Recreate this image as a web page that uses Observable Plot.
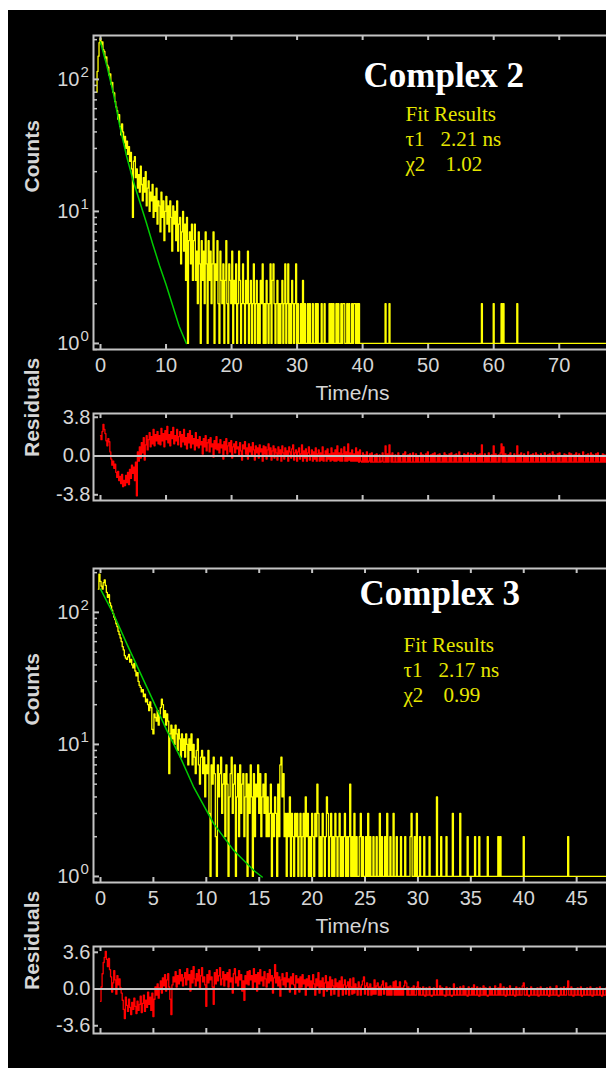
<!DOCTYPE html>
<html><head><meta charset="utf-8">
<script src="https://cdn.jsdelivr.net/npm/d3@7"></script>
<script src="https://cdn.jsdelivr.net/npm/@observablehq/plot@0.6"></script>
<style>
html,body{margin:0;padding:0;background:#fff;overflow:hidden;width:606px;height:1068px;}
#panel{position:absolute;left:8px;top:10px;width:598px;height:1058px;background:#000;overflow:hidden;}
#panel svg{max-width:none !important;}
</style></head><body><div id="panel"></div>
<script>
// ---------------- DATA ----------------
// Complex 2: photon counts per channel (channel width 0.15 ns, first channel at -0.6 ns)
const timeStart2 = -0.6, timeStep2 = 0.15;
const counts2 = [
 80,115,150,190,205,185,192,168,163,145,148,128,124,108,110,92,95,80,79,68,
 62,58,50,54,44,38,46,40,33,37,30,34,27,31,24,28,21,9,24,26,
 18,21,15,19,14,22,16,12,18,14,20,11,15,17,10,14,12,16,9,13,
 10,15,8,12,11,7,14,9,12,6,10,13,8,11,7,12,9,5,11,8,
 10,6,12,5,8,9,4,7,10,5,8,3,9,1,6,7,4,8,3,6,
 8,3,5,2,7,4,1,6,3,5,2,7,4,1,6,3,5,2,4,7,
 1,4,3,6,2,1,5,3,2,4,1,3,6,2,1,4,3,2,5,1,
 3,2,4,1,2,5,3,1,2,4,2,1,3,2,5,1,2,3,1,2,
 4,1,2,3,1,2,1,3,2,4,1,2,1,3,2,1,2,4,1,3,
 4,2,1,2,3,1,2,1,2,3,1,2,4,1,2,4,1,2,1,3,
 2,1,2,4,1,2,1,1,2,1,3,1,2,1,1,2,1,2,1,1,
 2,1,1,2,1,2,1,1,1,2,1,1,2,1,1,1,1,2,1,2,
 1,2,1,1,2,1,2,1,1,2,1,2,2,1,1,2,1,2,1,1,
 2,1,2,2,1,2,1,2,1,1,1,1,1,1,1,1,1,1,1,1,
 1,1,1,1,1,1,1,1,1,1,1,1,1,1,2,1,1,1,2,1,
 1,1,1,1,1,1,1,1,1,1,1,1,1,1,1,1,1,1,1,1,
 1,1,1,1,1,1,1,1,1,1,1,1,1,1,1,1,1,1,1,1,
 1,1,1,1,1,1,1,1,1,1,1,1,1,1,1,1,1,1,1,1,
 1,1,1,1,1,1,1,1,1,1,1,1,1,1,1,1,1,1,1,1,
 1,1,1,1,1,1,1,1,1,1,1,1,2,1,1,1,1,1,1,1,
 1,1,1,1,2,1,1,1,1,1,1,1,2,1,2,1,1,1,1,1,
 1,1,1,1,1,1,1,1,2,1,1,1,1,1,1,1,1,1,1,1,
 1,1,1,1,1,1,1,1,1,1,1,1,1,1,1,1,1,1,1,1,
 1,1,1,1,1,1,1,1,1,1,1,1,1,1,1,1,1,1,1,1,
 1,1,1,1,1,1,1,1,1,1,1,1,1,1,1,1,1,1,1,1,
 1,1,1,1,1,1,1,1,1,1,1,1,1,1,1,1,1,1,1,1,
 1,1,1,1,1
];
// Complex 2: fitted decay (green), read at these times
const fitTime2   = [0, 1, 2, 3, 4, 5, 6, 7, 8, 9, 10, 11, 12, 13.1];
const fitCounts2 = [192, 125, 77, 43, 26, 17, 11.8, 8.2, 5.6, 3.9, 2.8, 1.95, 1.35, 1.0];
// Complex 2: weighted residuals (channel width 0.15 ns, from 0 ns)
const residStart2 = 0, residStep2 = 0.15;
const resid2 = [
 2.0,1.6,2.4,3.1,2.6,2.2,1.5,1.0,1.7,1.4,0.4,-0.3,-0.9,-0.5,-1.2,-0.8,-1.6,-2.1,-1.5,-2.4,
 -2.0,-2.7,-1.8,-3.0,-2.4,-2.9,-1.9,-2.6,-1.6,-2.8,-1.3,-2.2,-0.9,-1.7,-1.1,-2.4,-0.6,-3.9,0.4,-0.5,
 0.9,-0.2,1.3,0.3,1.8,-0.4,1.1,2.0,0.6,1.6,2.3,0.9,1.9,1.2,2.6,1.0,2.1,1.5,2.4,1.2,
 2.0,1.1,2.7,1.5,2.2,0.9,2.5,1.6,2.9,1.3,2.1,1.0,2.4,1.7,2.8,1.2,2.0,1.5,2.6,1.1,
 1.9,2.4,0.9,2.1,1.4,2.6,1.1,1.8,0.7,2.2,1.3,2.5,0.8,2.0,1.2,1.7,0.6,2.3,1.0,1.6,
 0.8,1.9,1.1,1.4,0.2,1.7,0.9,2.0,0.5,1.3,1.6,0.4,1.8,0.9,1.2,-0.1,1.5,0.7,1.9,0.6,
 1.2,0.3,1.6,0.8,1.1,-0.3,1.4,0.6,1.7,0.2,1.0,1.3,0.4,1.5,-0.2,0.9,1.2,0.3,1.4,0.7,
 0.9,0.1,1.3,0.5,-0.4,1.1,0.7,1.4,0.2,0.8,-0.3,1.2,0.4,0.9,0.0,1.3,0.6,-0.4,1.0,0.3,
 0.8,-0.2,1.1,0.4,0.7,-0.5,1.0,0.2,0.9,-0.3,0.6,1.2,0.1,0.8,-0.4,0.5,1.0,-0.2,0.7,0.3,
 -0.4,0.9,0.2,0.6,-0.5,1.0,0.3,-0.3,0.8,0.1,0.5,-0.5,0.9,0.4,-0.2,0.7,1.1,-0.4,0.3,0.6,
 -0.5,0.4,0.8,-0.3,0.2,1.1,-0.5,0.5,-0.2,0.7,-0.5,0.3,0.9,-0.4,0.1,0.6,-0.5,0.4,-0.3,0.8,
 -0.5,0.2,0.6,-0.5,0.3,-0.4,0.9,-0.5,0.1,0.5,-0.5,0.7,-0.3,0.2,-0.5,0.8,-0.4,0.3,-0.5,0.6,
 -0.5,1.0,-0.4,0.3,-0.5,0.7,-0.5,0.2,0.9,-0.5,0.4,-0.5,1.2,-0.4,0.3,-0.5,0.6,-0.5,0.2,-0.5,
 0.8,-0.5,0.4,-0.6,0.6,-0.5,-0.6,0.3,-0.6,0.1,-0.6,0.4,-0.6,-0.5,0.2,-0.6,0.3,-0.6,-0.6,0.1,
 -0.6,0.2,-0.6,-0.6,0.1,-0.6,-0.5,0.3,-0.6,-0.6,1.0,-0.6,0.2,-0.6,1.1,0.1,-0.6,0.3,-0.6,-0.6,
 0.1,-0.6,-0.6,0.3,-0.6,0.0,-0.6,-0.6,0.2,-0.6,0.4,-0.6,-0.6,0.1,-0.6,0.2,-0.6,-0.6,0.3,-0.6,
 -0.6,0.2,-0.6,0.0,-0.6,-0.6,0.3,-0.6,0.1,-0.6,-0.6,0.2,-0.6,0.4,-0.6,-0.6,0.1,-0.6,0.2,-0.6,
 0.3,-0.6,-0.6,0.1,-0.6,0.2,-0.6,-0.6,0.0,-0.6,0.3,-0.6,0.1,-0.6,-0.6,0.2,-0.6,0.3,-0.6,-0.6,
 0.1,-0.6,0.2,-0.6,-0.6,0.4,-0.6,0.0,-0.6,-0.6,0.2,-0.6,0.1,-0.6,0.3,-0.6,-0.6,0.2,-0.6,0.1,
 -0.6,0.3,-0.6,-0.6,0.1,-0.6,0.2,-0.6,1.1,-0.6,-0.6,0.2,-0.6,0.0,-0.6,0.3,-0.6,-0.6,0.1,-0.6,
 1.0,-0.6,0.2,-0.6,-0.6,0.1,-0.6,0.3,1.2,-0.6,0.9,-0.6,0.2,-0.6,-0.6,0.1,-0.6,0.3,-0.6,0.0,
 -0.6,0.2,-0.6,-0.6,1.0,-0.6,0.1,-0.6,0.3,-0.6,-0.6,0.2,-0.6,0.0,-0.6,0.4,-0.6,-0.6,0.1,-0.6,
 0.2,-0.6,-0.6,0.3,-0.6,0.1,-0.6,-0.6,0.2,-0.6,0.0,-0.6,0.3,-0.6,-0.6,0.1,-0.6,0.2,-0.6,-0.6,
 0.4,-0.6,0.1,-0.6,-0.6,0.2,-0.6,0.3,-0.6,-0.6,0.0,-0.6,0.2,-0.6,0.1,-0.6,-0.6,0.3,-0.6,0.2,
 -0.6,-0.6,0.1,-0.6,0.3,-0.6,-0.6,0.2,-0.6,0.0,-0.6,0.4,-0.6,-0.6,0.1,-0.6,0.2,-0.6,-0.6,0.3,
 -0.6,0.1,-0.6,-0.6,0.2,-0.6,0.3,-0.6,-0.6,0.0,-0.6,0.2,-0.6,0.1,-0.6,-0.6,0.3,-0.6,0.2,-0.6,
 -0.6
];

// Complex 3: photon counts per channel (channel width 0.1 ns, first channel at -0.2 ns)
const timeStart3 = -0.2, timeStep3 = 0.1;
const counts3 = [
 150,195,172,158,150,168,176,160,142,130,136,118,112,104,98,92,88,82,78,72,
 68,64,60,55,52,47,45,44,46,48,42,44,40,38,41,36,33,35,30,28,
 27,25,26,23,24,21,22,20,18,21,19,13,12,17,16,15,18,14,17,19,
 22,20,16,18,14,17,15,6,12,14,11,13,10,14,12,9,13,11,8,12,
 9,11,8,12,10,7,11,9,12,7,10,8,6,9,11,7,5,8,9,6,
 8,4,7,6,9,3,1,7,5,8,6,2,1,7,4,6,8,3,5,6,
 2,7,5,1,4,6,8,3,5,7,1,4,6,2,7,3,5,6,2,4,
 6,1,5,3,7,4,1,6,2,5,4,7,3,6,2,4,5,3,6,2,
 4,2,3,5,1,3,2,4,3,1,5,2,7,8,4,6,2,3,1,3,
 2,4,1,3,2,1,3,2,3,1,2,3,1,2,3,1,4,2,3,1,
 2,1,3,2,1,3,2,5,3,1,2,1,3,2,1,2,4,3,1,2,
 3,1,2,1,3,2,1,2,3,1,2,1,2,3,1,2,1,2,5,1,
 2,1,3,1,2,1,1,2,3,1,2,1,1,2,1,3,1,2,1,1,
 2,1,1,2,1,1,3,1,2,1,1,2,1,3,1,1,2,1,1,3,
 1,1,2,1,1,1,2,1,1,1,2,1,1,1,1,2,3,1,1,2,
 1,3,1,1,2,1,1,1,2,1,1,1,1,2,1,1,1,1,1,1,
 4,1,1,1,2,1,1,1,1,2,1,1,1,1,1,3,1,1,1,1,
 1,1,3,1,1,1,1,1,1,2,1,1,1,1,1,1,2,1,1,1,
 2,1,1,1,1,1,1,1,2,1,1,1,1,1,1,1,1,1,2,1,
 2,1,1,1,1,1,1,1,1,1,1,1,1,1,1,1,1,1,1,1,
 1,1,2,1,1,1,1,1,1,1,1,1,1,1,1,1,1,1,1,1,
 1,1,1,1,1,1,1,1,1,1,1,1,1,1,1,1,1,1,1,1,
 1,1,1,1,2,1,1,1,1,1,1,1,1,1,1,1,1,1,1,1,
 1,1,1,1,1,1,1,1,1,1,1,1,1,1,1,1,1,1,1,1,
 1,1,1
];
const fitTime3   = [0, 1.26, 2.52, 4.41, 6.30, 7.56, 8.82, 10.71, 12.6, 14.49, 15.28];
const fitCounts3 = [150, 96, 57, 26.8, 12.6, 7.95, 4.72, 2.5, 1.57, 1.11, 0.99];
// Complex 3: weighted residuals (channel width 0.1 ns, from 0 ns)
const residStart3 = 0, residStep3 = 0.1;
const resid3 = [
 -1.2,0.2,1.5,2.6,3.1,3.7,2.9,2.2,3.0,1.9,1.2,-0.3,0.6,1.8,0.9,-0.5,1.3,0.4,1.0,0.1,
 -0.4,-1.1,-2.0,-2.9,-0.8,-1.6,-2.2,-1.0,-1.8,-2.5,-1.3,-2.0,-0.9,-1.7,-2.4,-1.2,-2.1,-1.5,-0.7,-2.3,
 -1.4,-0.6,-2.2,-1.1,-1.8,-0.3,-1.5,-0.8,-2.1,-0.4,-2.7,-1.0,0.2,-0.6,0.5,-0.9,0.1,0.8,-0.4,1.1,
 0.3,1.4,-0.2,0.9,1.5,0.2,-1.0,-2.5,0.4,1.2,0.7,1.7,0.2,1.3,0.5,1.9,0.8,1.4,0.3,1.1,
 1.6,0.4,2.0,0.9,1.4,-0.2,1.8,0.6,2.2,1.0,0.3,1.5,0.8,1.9,0.1,1.3,2.1,0.7,1.2,0.4,
 -1.7,1.4,0.6,1.8,0.9,1.2,0.2,-1.5,1.6,0.5,1.9,0.8,1.3,2.1,0.4,1.0,1.7,0.3,1.4,0.9,
 1.6,0.2,1.9,0.7,1.1,-0.4,1.5,2.0,0.6,1.2,0.3,1.8,0.9,1.4,-0.2,0.8,-1.1,1.3,0.5,1.7,
 0.4,1.8,0.9,1.3,0.1,2.0,0.7,1.4,-0.2,1.6,0.5,1.9,0.8,1.2,0.3,1.7,1.0,0.2,1.5,0.6,
 1.9,0.8,1.3,-0.4,1.1,2.4,0.6,1.6,0.3,1.2,-0.7,0.9,1.5,0.4,1.1,0.2,1.6,0.7,1.0,-0.3,
 1.2,0.5,1.5,0.4,-0.5,1.3,0.6,1.0,-0.3,1.2,0.2,1.4,0.5,0.9,-0.6,1.0,0.3,1.3,0.1,0.8,
 0.1,1.4,0.5,-0.6,1.0,0.3,1.6,-0.4,0.8,0.2,1.1,-0.7,0.6,1.3,-0.2,0.7,0.1,1.2,-0.6,0.9,
 0.3,-0.5,1.0,0.2,0.6,-0.7,0.8,0.1,1.2,-0.6,0.4,0.9,-0.5,0.3,0.7,-0.6,1.0,0.2,-0.5,1.1,
 -0.4,0.5,0.1,-0.6,0.7,0.2,-0.6,0.4,0.8,1.2,-0.5,0.3,0.6,-0.6,0.2,0.5,-0.6,0.1,-0.5,0.9,
 -0.5,0.3,0.6,-0.6,0.2,-0.6,0.4,0.8,-0.5,0.1,0.6,-0.6,0.2,-0.6,0.3,-0.6,0.1,0.7,-0.6,0.8,
 -0.6,0.2,-0.6,0.7,-0.6,0.1,-0.6,0.3,0.8,0.6,-0.6,0.2,-0.6,-0.6,0.1,-0.6,0.3,-0.6,-0.6,0.2,
 0.7,-0.6,0.1,-0.6,-0.6,0.2,-0.6,-0.7,0.1,-0.6,-0.6,0.2,-0.6,-0.7,-0.6,0.1,-0.6,-0.6,0.9,-0.6,
 -0.6,0.3,-0.6,0.1,-0.6,-0.6,-0.7,0.2,-0.6,-0.6,0.1,-0.6,-0.7,-0.6,0.5,-0.6,-0.6,0.1,-0.6,-0.6,
 0.2,-0.6,-0.6,0.3,-0.6,0.0,-0.6,-0.7,0.2,-0.6,-0.6,0.1,-0.6,0.4,-0.6,-0.6,0.2,-0.6,-0.7,0.1,
 -0.6,-0.6,0.3,-0.6,0.1,-0.6,-0.7,-0.6,0.2,-0.6,0.0,-0.6,-0.6,0.3,-0.6,-0.6,0.1,-0.6,0.5,-0.6,
 -0.6,0.2,-0.6,-0.7,0.1,-0.6,-0.6,0.3,-0.6,-0.6,0.0,-0.6,-0.7,0.2,-0.6,-0.6,0.1,-0.6,-0.6,0.3,
 0.6,-0.6,-0.6,0.1,-0.6,-0.7,-0.6,0.2,-0.6,-0.6,0.0,-0.6,-0.6,0.1,-0.7,-0.6,0.2,-0.6,-0.6,0.0,
 -0.6,-0.6,0.1,-0.6,-0.7,0.2,-0.6,-0.6,0.0,-0.6,-0.6,0.3,-0.6,-0.7,-0.6,0.1,-0.6,-0.6,0.2,-0.6,
 -0.6,0.1,0.8,-0.6,-0.6,0.2,-0.6,-0.7,0.0,-0.6,-0.6,0.1,-0.6,-0.6,0.2,-0.7,-0.6,0.0,-0.6,-0.6,
 0.1,-0.6,-0.6,0.2,-0.6,-0.7,0.0,-0.6,-0.6,0.1,-0.6,-0.6,0.2,-0.6,-0.7,0.0,-0.6,-0.6,0.1,-0.6,
 -0.6
];

// tick values / labels
const xTicks2 = [0, 10, 20, 30, 40, 50, 60, 70];
const xTicks3 = [0, 5, 10, 15, 20, 25, 30, 35, 40, 45];
const decadeExponents = [0, 1, 2];
const residTicks2 = [-3.8, 0, 3.8];
const residTicks3 = [-3.6, 0, 3.6];
const titles = ["Complex 2", "Complex 3"];
const tauValues = ["2.21 ns", "2.17 ns"];
const chiValues = ["1.02", "0.99"];

// ---------------- DRAWING ----------------
const panel = document.getElementById("panel");
const SANS = "'Liberation Sans', Arial, sans-serif";
const SERIF = "'Liberation Serif', 'Times New Roman', serif";
const FRAME = "#c4c4c4", TXT = "#d6d6d6";
const W = 620, ML = 85;

function place(svg, top) {
  svg.style.position = "absolute";
  svg.style.left = "0px";
  svg.style.top = top + "px";
  svg.style.maxWidth = "none";
  svg.style.width = W + "px";
  panel.appendChild(svg);
}

function decayPanel(o) {
  const H = 395, MT = 25, MB = 56;
  const innerH = H - MT - MB, innerW = W - ML;
  const yDomain = [0.9, 215];
  const series = o.counts.map((c, i) => ({t: o.tStart + i * o.tStep, c}));
  const fit = o.fitT.map((t, i) => ({t, c: o.fitC[i]}));
  const logTicks = d3.scaleLog().domain(yDomain).ticks();
  const minor = logTicks.filter(v => ![1, 10, 100].includes(v));
  const svg = Plot.plot({
    width: W, height: H, marginLeft: ML, marginRight: 0, marginTop: MT, marginBottom: MB,
    x: {domain: o.xDomain, axis: null},
    y: {type: "log", domain: yDomain, axis: null},
    style: {background: "transparent", color: TXT, fontFamily: SANS, overflow: "visible", maxWidth: "none"},
    marks: [
      Plot.line(series, {x: "t", y: "c", curve: "step", stroke: "#ffff00", strokeWidth: 1.3, clip: true}),
      Plot.line(fit, {x: "t", y: "c", stroke: "#00cc00", strokeWidth: 1.5, clip: true}),
      Plot.frame({stroke: FRAME, strokeWidth: 2}),
      Plot.ruleX(o.xTicks, {x: d => d, insetTop: innerH - 5, stroke: FRAME, strokeWidth: 2}),
      Plot.ruleX(o.xTicks, {x: d => d, insetBottom: innerH - 5, stroke: FRAME, strokeWidth: 2}),
      Plot.ruleY(minor, {y: d => d, insetRight: innerW - 4, stroke: FRAME, strokeWidth: 1.5}),
      Plot.ruleY(decadeExponents, {y: d => 10 ** d, insetRight: innerW - 6, stroke: FRAME, strokeWidth: 2}),
      Plot.text(o.xTicks, {x: d => d, text: d => String(d), frameAnchor: "bottom", lineAnchor: "top", dy: 8, fontSize: 20, fill: TXT}),
      Plot.text(decadeExponents, {y: d => 10 ** d, text: () => "10", frameAnchor: "left", textAnchor: "end", dx: -14, fontSize: 20, fill: TXT}),
      Plot.text(decadeExponents, {y: d => 10 ** d, text: d => String(d), frameAnchor: "left", textAnchor: "start", dx: -13, dy: -7, fontSize: 15, fill: TXT}),
      Plot.text(["Time/ns"], {text: d => d, frameAnchor: "bottom-left", dx: 259, dy: 50, lineAnchor: "bottom", textAnchor: "middle", fontSize: 21, fill: TXT}),
      Plot.text(["Counts"], {text: d => d, frameAnchor: "left", dx: -61, rotate: -90, fontSize: 21, fontWeight: "bold", fill: TXT}),
      Plot.text([o.title], {text: d => d, frameAnchor: "top-left", dx: o.tx, dy: o.ty, lineAnchor: "bottom", textAnchor: "start", fontFamily: SERIF, fontWeight: "bold", fontSize: 35, fill: "#ffffff"}),
      Plot.text(["Fit Results"], {text: d => d, frameAnchor: "top-left", dx: o.fx, dy: o.fy, lineAnchor: "bottom", textAnchor: "start", fontFamily: SERIF, fontSize: 21, fill: "#e6e600"}),
      Plot.text(["τ1"], {text: d => d, frameAnchor: "top-left", dx: o.fx, dy: o.fy + 25, lineAnchor: "bottom", textAnchor: "start", fontFamily: SERIF, fontSize: 21, fill: "#e6e600"}),
      Plot.text([o.tau], {text: d => d, frameAnchor: "top-left", dx: o.fx + 35, dy: o.fy + 25, lineAnchor: "bottom", textAnchor: "start", fontFamily: SERIF, fontSize: 21, fill: "#e6e600"}),
      Plot.text(["χ2"], {text: d => d, frameAnchor: "top-left", dx: o.fx, dy: o.fy + 50, lineAnchor: "bottom", textAnchor: "start", fontFamily: SERIF, fontSize: 21, fill: "#e6e600"}),
      Plot.text([o.chi], {text: d => d, frameAnchor: "top-left", dx: o.fx + 40, dy: o.fy + 50, lineAnchor: "bottom", textAnchor: "start", fontFamily: SERIF, fontSize: 21, fill: "#e6e600"})
    ]
  });
  place(svg, o.top);
}

function residPanel(o) {
  const H = 120, MT = 23, MB = 10;
  const innerH = H - MT - MB, innerW = W - ML;
  const series = o.resid.map((r, i) => ({t: o.tStart + i * o.tStep, r}));
  const svg = Plot.plot({
    width: W, height: H, marginLeft: ML, marginRight: 0, marginTop: MT, marginBottom: MB,
    x: {domain: o.xDomain, axis: null},
    y: {domain: [-4.36, 4.17], axis: null},
    style: {background: "transparent", color: TXT, fontFamily: SANS, overflow: "visible", maxWidth: "none"},
    marks: [
      Plot.line(series, {x: "t", y: "r", curve: "step", stroke: "#ff0000", strokeWidth: 1.3, clip: true}),
      Plot.ruleY([0], {stroke: FRAME, strokeWidth: 2}),
      Plot.frame({stroke: FRAME, strokeWidth: 2}),
      Plot.ruleX(o.xTicks, {x: d => d, insetTop: innerH - 5, stroke: FRAME, strokeWidth: 2}),
      Plot.ruleX(o.xTicks, {x: d => d, insetBottom: innerH - 5, stroke: FRAME, strokeWidth: 2}),
      Plot.ruleY(o.yTicks, {y: d => d, insetRight: innerW - 5, stroke: FRAME, strokeWidth: 2}),
      Plot.text(o.yTicks, {y: d => d, text: d => d.toFixed(1), frameAnchor: "left", textAnchor: "end", dx: -3, fontSize: 20, fill: TXT}),
      Plot.text(["Residuals"], {text: d => d, frameAnchor: "left", dx: -61, rotate: -90, fontSize: 21, fontWeight: "bold", fill: TXT})
    ]
  });
  place(svg, o.top);
}

const xDomain2 = [-1.068, 80.57];
const xDomain3 = [-0.662, 49.9];

decayPanel({top: 0, tStart: timeStart2, tStep: timeStep2, counts: counts2, fitT: fitTime2, fitC: fitCounts2,
  xDomain: xDomain2, xTicks: xTicks2, title: titles[0], tau: tauValues[0], chi: chiValues[0],
  tx: 270, ty: 51, fx: 312, fy: 85});
residPanel({top: 380, tStart: residStart2, tStep: residStep2, resid: resid2, xDomain: xDomain2, xTicks: xTicks2, yTicks: residTicks2});
decayPanel({top: 533, tStart: timeStart3, tStep: timeStep3, counts: counts3, fitT: fitTime3, fitC: fitCounts3,
  xDomain: xDomain3, xTicks: xTicks3, title: titles[1], tau: tauValues[1], chi: chiValues[1],
  tx: 266, ty: 36, fx: 310, fy: 83});
residPanel({top: 913, tStart: residStart3, tStep: residStep3, resid: resid3, xDomain: xDomain3, xTicks: xTicks3, yTicks: residTicks3});
</script></body></html>
